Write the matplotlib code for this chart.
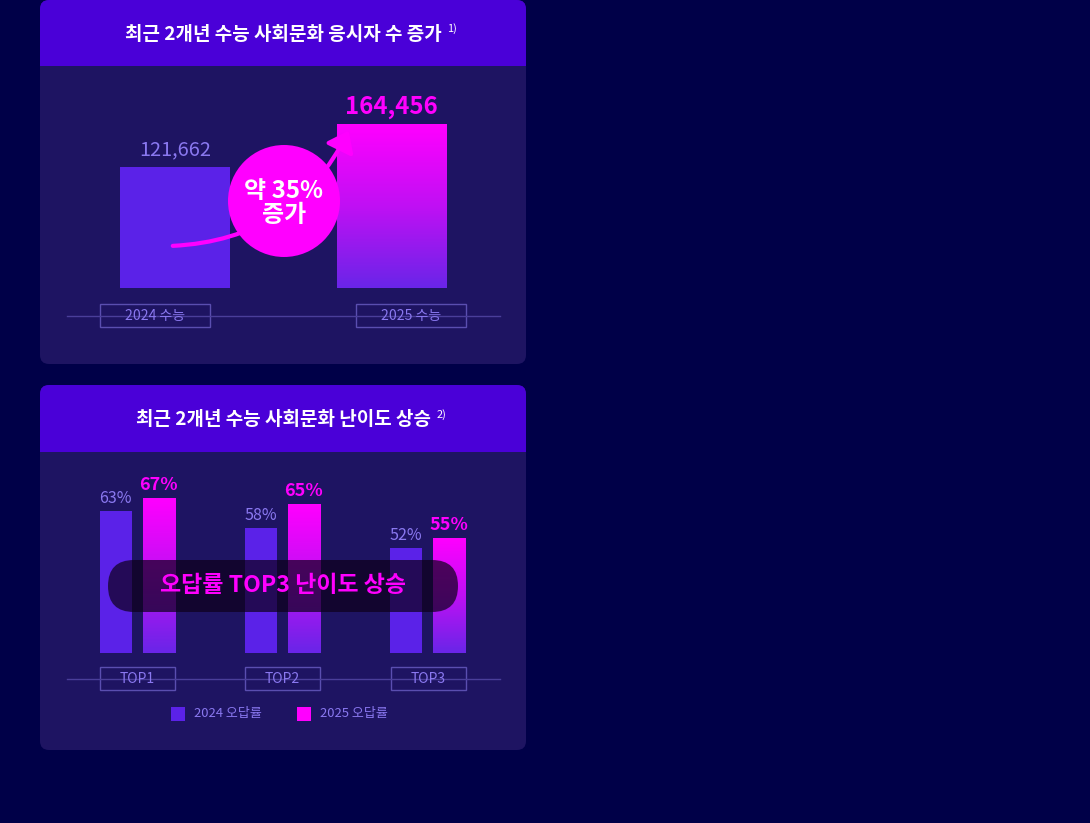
import matplotlib
matplotlib.use("Agg")
import matplotlib.pyplot as plt
import numpy as np
from matplotlib.patches import FancyBboxPatch, Rectangle, Circle, FancyArrowPatch
from matplotlib.colors import LinearSegmentedColormap

plt.rcParams['font.family'] = ['Noto Sans CJK KR', 'DejaVu Sans']

# ---- data ----
exam_labels = ["2024 수능", "2025 수능"]
exam_takers = [121662, 164456]
top_labels = ["TOP1", "TOP2", "TOP3"]
wrong_2024 = [63, 58, 52]
wrong_2025 = [67, 65, 55]
legend_labels = ["2024 오답률", "2025 오답률"]

BG = "#000048"; PANEL = "#1E1462"; HEAD = "#4A00D8"
C24 = "#5B22E8"; C25 = "#FF00FF"; LBL = "#8A78F0"
grad = LinearSegmentedColormap.from_list("g", ["#6A25E8", "#C010F4", "#FF00FF"])

W, H = 1090, 823
fig = plt.figure(figsize=(W/100, H/100), dpi=100, facecolor=BG)
bg = fig.add_axes([0, 0, 1, 1]); bg.set_xlim(0, W); bg.set_ylim(H, 0); bg.axis('off')

def px(v): return v*72/100

renderer = fig.canvas.get_renderer()
for (y0, y1, hy, title, sup) in [(0, 364, 66, "최근 2개년 수능 사회문화 응시자 수 증가", "1)"),
                                  (385, 750, 452, "최근 2개년 수능 사회문화 난이도 상승", "2)")]:
    bg.add_patch(FancyBboxPatch((40, y0), 486, y1-y0, boxstyle="round,pad=0,rounding_size=9", fc=PANEL, ec='none'))
    bg.add_patch(FancyBboxPatch((40, y0), 486, hy-y0, boxstyle="round,pad=0,rounding_size=9", fc=HEAD, ec='none'))
    bg.add_patch(Rectangle((40, hy-12), 486, 12, fc=HEAD, ec='none'))
    t = bg.text(283, (y0+hy)/2+1, title, color='white', fontsize=px(19), fontweight='bold', ha='center', va='center')
    ext = t.get_window_extent(renderer)
    bg.text(ext.x1 + 6, (y0+hy)/2-4, sup, color='white', fontsize=px(11), ha='left', va='center')

def axes_px(x0, x1, ybottom, h):
    return fig.add_axes([x0/W, 1-ybottom/H, (x1-x0)/W, h/H])

def gradient_bar(ax, bar):
    ylo = ax.get_ylim()[0]
    x, y = bar.get_x(), max(bar.get_y(), ylo); w = bar.get_width(); top = bar.get_y()+bar.get_height()
    im = ax.imshow(np.linspace(0, 1, 100).reshape(-1, 1), cmap=grad, origin='lower', aspect='auto',
                   extent=[x, x+w, y, top], zorder=2)
    clip = Rectangle((x, y), w, top-y, transform=ax.transData)
    im.set_clip_path(clip)
    bar.set_facecolor('none')

# ---- chart 1 ----
ax1 = axes_px(67, 500, 288, 200)
xl1, yl1 = (-0.5, 1.5), (0, 164456*200/164)
ax1.set_xlim(*xl1); ax1.set_ylim(*yl1); ax1.axis('off')
bars = ax1.bar([0, 1], exam_takers, width=110/216.5, color=[C24, C25], zorder=1)
gradient_bar(ax1, bars[1])
ax1.set_xlim(*xl1); ax1.set_ylim(*yl1)
ax1.text(0, exam_takers[0]+6000, f"{exam_takers[0]:,}", color=LBL, fontsize=px(20), ha='center', va='bottom')
ax1.text(1, exam_takers[1]+5000, f"{exam_takers[1]:,}", color=C25, fontsize=px(24), fontweight='bold', ha='center', va='bottom')
bg.plot([67, 500], [316, 316], color="#4A3E9A", lw=1)
for cx, lab in zip([155, 411], exam_labels):
    bg.add_patch(Rectangle((cx-55, 304), 110, 23, fc=PANEL, ec="#5A4EB0", lw=1))
    bg.text(cx, 316, lab, color=LBL, fontsize=px(14), ha='center', va='center')

# ---- chart 2 ----
ax2 = axes_px(67, 500, 653, 200)
xl2, yl2 = (-0.483, 2.503), (20.4, 80.4)
ax2.set_xlim(*xl2); ax2.set_ylim(*yl2); ax2.axis('off')
xs = np.arange(3); bw = 32/145; off = 21.5/145
b24 = ax2.bar(xs-off, wrong_2024, width=bw, color=C24, zorder=1)
b25 = ax2.bar(xs+off, wrong_2025, width=bw, color=C25, zorder=1)
for b in b25: gradient_bar(ax2, b)
ax2.set_xlim(*xl2); ax2.set_ylim(*yl2)
for i in range(3):
    ax2.text(xs[i]-off, wrong_2024[i]+1.2, f"{wrong_2024[i]}%", color=LBL, fontsize=px(16), ha='center', va='bottom')
    ax2.text(xs[i]+off, wrong_2025[i]+1.2, f"{wrong_2025[i]}%", color=C25, fontsize=px(18), fontweight='bold', ha='center', va='bottom')
bg.plot([67, 500], [679, 679], color="#4A3E9A", lw=1)
for cx, lab in zip([137.5, 282.5, 428.5], top_labels):
    bg.add_patch(Rectangle((cx-37.5, 667), 75, 23, fc=PANEL, ec="#5A4EB0", lw=1))
    bg.text(cx, 679, lab, color=LBL, fontsize=px(14), ha='center', va='center')
for x0, c, lab in [(171, C24, legend_labels[0]), (297, C25, legend_labels[1])]:
    bg.add_patch(Rectangle((x0, 707), 14, 14, fc=c, ec='none'))
    bg.text(x0+23, 714, lab, color=LBL, fontsize=px(13), ha='left', va='center')

# ---- overlay ----
ov = fig.add_axes([0, 0, 1, 1]); ov.set_xlim(0, W); ov.set_ylim(H, 0); ov.axis('off'); ov.patch.set_alpha(0)
ov.add_patch(FancyArrowPatch((170, 246), (350, 128), connectionstyle="arc3,rad=0.3",
                             arrowstyle="-|>,head_length=12,head_width=9", color=C25, lw=3, zorder=4))
ov.add_patch(Circle((284, 201), 56, fc=C25, ec='none', zorder=5))
ov.text(284, 203, "약 35%\n증가", color='white', fontsize=px(24), fontweight='bold', ha='center', va='center',
        linespacing=1.0, zorder=6)
ov.add_patch(FancyBboxPatch((108, 560), 350, 52, boxstyle="round,pad=0,rounding_size=26",
                            fc=(0.05, 0, 0.1, 0.7), ec='none', zorder=5))
ov.text(283, 586, "오답률 TOP3 난이도 상승", color=C25, fontsize=px(23), fontweight='bold', ha='center', va='center', zorder=6)

fig.savefig("out.png", dpi=100, facecolor=BG)
